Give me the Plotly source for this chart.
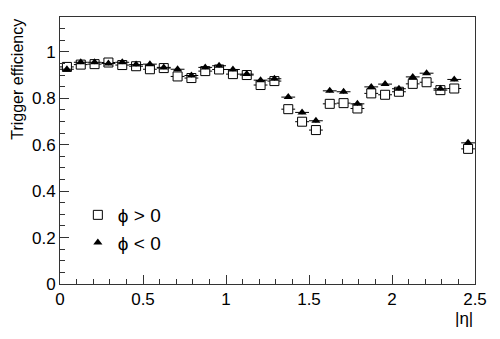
import plotly.graph_objects as go

eta_centers = [(i + 0.5) / 12 for i in range(30)]
half_bin = [1 / 24] * 30

eff_phi_pos = [0.935, 0.945, 0.947, 0.954, 0.943, 0.938, 0.925, 0.930, 0.894, 0.887,
               0.917, 0.924, 0.904, 0.900, 0.857, 0.874, 0.753, 0.699, 0.663, 0.776,
               0.779, 0.756, 0.821, 0.815, 0.828, 0.862, 0.869, 0.835, 0.842, 0.582]
eff_phi_neg = [0.925, 0.955, 0.955, 0.950, 0.955, 0.945, 0.947, 0.933, 0.925, 0.898,
               0.933, 0.940, 0.924, 0.904, 0.878, 0.884, 0.805, 0.739, 0.703, 0.832,
               0.828, 0.776, 0.849, 0.861, 0.841, 0.892, 0.908, 0.841, 0.881, 0.608]
err_y = [0.008] * 30

FONT = "Liberation Sans, Arial, sans-serif"

fig = go.Figure()
fig.add_trace(go.Scatter(
    x=eta_centers, y=eff_phi_pos, mode="markers", name="ϕ > 0",
    marker=dict(symbol="square", size=9, color="white", line=dict(color="black", width=1)),
    error_x=dict(type="data", array=half_bin, width=0, color="black", thickness=1),
    error_y=dict(type="data", array=err_y, width=0, color="black", thickness=1),
))
fig.add_trace(go.Scatter(
    x=eta_centers, y=eff_phi_neg, mode="markers", name="ϕ < 0",
    marker=dict(symbol="triangle-up", size=8, color="black", line=dict(color="black", width=0)),
    error_x=dict(type="data", array=half_bin, width=0, color="black", thickness=1),
    error_y=dict(type="data", array=err_y, width=0, color="black", thickness=1),
))

axis_common = dict(
    showgrid=False, zeroline=False, showline=True, linecolor="#333", linewidth=1,
    mirror=True, ticks="inside", ticklen=9, tickcolor="#333", tickwidth=1,
    tickfont=dict(family=FONT, size=17, color="black"), automargin=False,
)
fig.update_xaxes(range=[0, 2.5], dtick=0.5, tick0=0,
                 minor=dict(ticks="inside", dtick=0.1, ticklen=5, tickcolor="#333"),
                 **axis_common)
fig.update_yaxes(range=[0, 1.15], dtick=0.2, tick0=0,
                 minor=dict(ticks="inside", dtick=0.05, ticklen=5, tickcolor="#333"),
                 **axis_common)

fig.add_annotation(text="Trigger efficiency", xref="paper", yref="paper",
                   x=-0.103, y=1.0, xanchor="center", yanchor="top", textangle=-90,
                   showarrow=False, font=dict(family=FONT, size=16, color="black"))
fig.add_annotation(text="|η|", xref="paper", yref="paper",
                   x=1.0, y=-0.085, xanchor="right", yanchor="top",
                   showarrow=False, font=dict(family=FONT, size=17, color="black"))

# page body has an 8px default margin; shrink figure so plot area lands at 60..475 x 17..284
fig.update_layout(
    width=492, height=331,
    margin=dict(l=52, r=25, t=9, b=55),
    plot_bgcolor="white", paper_bgcolor="white",
    showlegend=True,
    legend=dict(x=0.043, y=0.206, xanchor="left", yanchor="middle",
                bgcolor="rgba(0,0,0,0)", font=dict(family=FONT, size=19, color="black"),
                tracegroupgap=0),
)

fig.write_html("out.html")
